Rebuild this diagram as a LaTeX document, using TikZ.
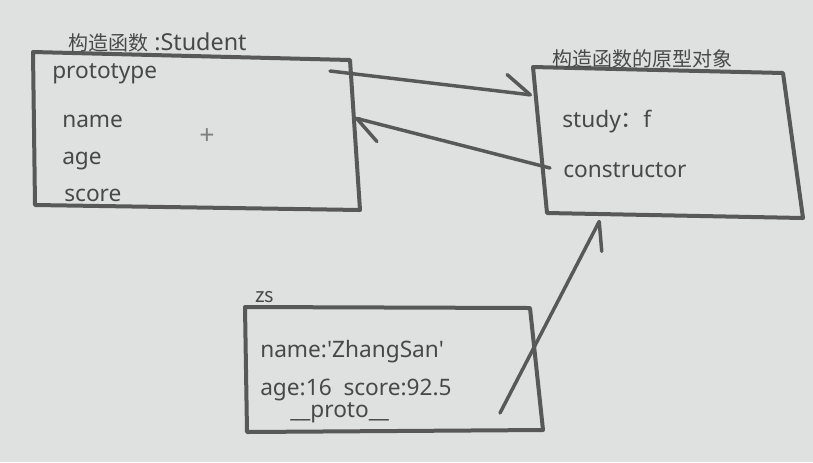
\documentclass[tikz,border=0pt]{standalone}
\usepackage{fontspec}
\setmainfont{Noto Sans}
\newfontfamily\cjk{Noto Sans CJK SC}
\usetikzlibrary{arrows.meta}
\definecolor{bgc}{RGB}{222,225,223}
\definecolor{inkc}{RGB}{88,88,88}
\definecolor{txtc}{RGB}{72,72,72}
\tikzset{
  box/.style={draw=inkc, line width=3pt, line join=round},
  lbl/.style={anchor=base west, inner sep=0pt, text=txtc, font=\fontsize{17pt}{18pt}\selectfont},
  ttl/.style={anchor=base west, inner sep=0pt, text=txtc, font=\cjk\fontsize{15pt}{16pt}\selectfont},
  link/.style={draw=inkc, line width=2.6pt, line cap=round,
    -{Straight Barb[harpoon, length=19pt, width=26pt, line width=2.6pt, round]}},
  linkr/.style={draw=inkc, line width=2.6pt, line cap=round,
    -{Straight Barb[harpoon, swap, length=19pt, width=24pt, line width=2.6pt, round]}}
}
\begin{document}
\begin{tikzpicture}[x=0.75pt, y=-0.75pt]
\fill[bgc] (0,0) rectangle (813,462);
\useasboundingbox (0,0) rectangle (813,462);
% box 1
\coordinate (a1) at (33,52); \coordinate (a2) at (350,60);
\coordinate (a3) at (360,210); \coordinate (a4) at (35,205);
\draw[box] (a1) -- (a2) -- (a3) -- (a4) -- cycle;
% box 2
\coordinate (b1) at (533,67); \coordinate (b2) at (783,73);
\coordinate (b3) at (803,218); \coordinate (b4) at (547,213);
\draw[box] (b1) -- (b2) -- (b3) -- (b4) -- cycle;
% box 3
\coordinate (c1) at (245,307); \coordinate (c2) at (530,308);
\coordinate (c3) at (543,430); \coordinate (c4) at (247,432);
\draw[box] (c1) -- (c2) -- (c3) -- (c4) -- cycle;
% texts
\node[ttl] (t1) at (68,50) {构造函数{\rmfamily\fontsize{17.5pt}{18pt}\selectfont\ :Student}};
\node[lbl] (proto) at (52,78) {prototype};
\node[lbl] (nm) at (62,127) {name};
\node[lbl] (ag) at (62,164) {age};
\node[lbl] (sc) at (64,201) {score};
\node[text=gray, font=\fontsize{20pt}{20pt}\selectfont, inner sep=0pt] (cur) at (207,137) {+};
\node[ttl] (t2) at (552,66) {构造函数的原型对象};
\node[lbl] (st) at (562,127) {study{\cjk ：}f};
\node[lbl] (ctor) at (563,177) {constructor};
\node[ttl] (zs) at (255,302) {zs};
\node[lbl] (zn) at (260,357) {name:\textquotesingle ZhangSan\textquotesingle};
\node[lbl] (za) at (260,395) {age:16\ \ score:92.5};
\node[lbl] (zp) at (290,417) {\_\_proto\_\_};
% connectors
\coordinate (p1s) at (330,71); \coordinate (p1e) at (532,95);
\coordinate (p2s) at (550,168); \coordinate (p2e) at (355,118);
\coordinate (p3s) at (500,413); \coordinate (p3e) at (600,220);
\draw[link] (p1s) -- (p1e);
\draw[link] (p2s) -- (p2e);
\draw[linkr] (p3s) -- (p3e);
\end{tikzpicture}
\end{document}
